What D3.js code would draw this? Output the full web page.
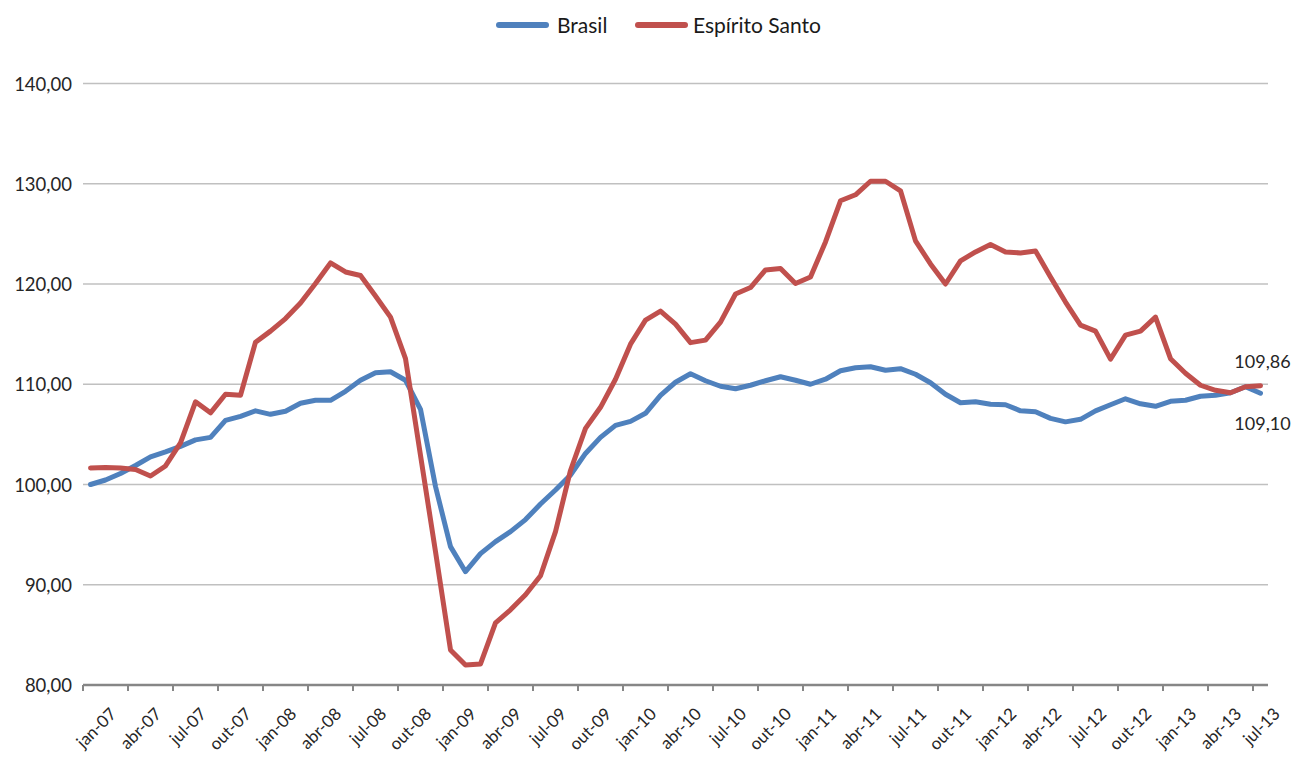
<!DOCTYPE html>
<html><head><meta charset="utf-8">
<script src="https://cdn.jsdelivr.net/npm/d3@7"></script>
<style>
html,body{margin:0;padding:0;background:#fff;}
svg{display:block;font-family:Lato,"Open Sans",sans-serif;}
</style></head>
<body><svg id="chart" width="1295" height="758"></svg>
<script>
const monthNames = ["jan","fev","mar","abr","mai","jun","jul","ago","set","out","nov","dez"];
const years = ["07","08","09","10","11","12","13"];
const categories = [];
years.forEach(y => monthNames.forEach(m => categories.push(m + "-" + y)));
categories.splice(categories.indexOf("jul-13") + 1);

const seriesNames = ["Brasil", "Espírito Santo"];
const brasil = [
  100.0,100.45,101.1,101.9,102.75,103.25,103.8,104.45,104.7,106.4,106.8,107.35,
  107.0,107.3,108.1,108.4,108.4,109.3,110.4,111.15,111.25,110.4,107.5,99.8,
  93.8,91.3,93.1,94.3,95.3,96.5,98.05,99.45,100.95,103.1,104.7,105.9,
  106.3,107.1,108.9,110.2,111.05,110.35,109.8,109.55,109.9,110.35,110.75,110.4,
  110.0,110.5,111.35,111.65,111.75,111.4,111.55,111.0,110.15,109.0,108.15,108.25,
  108.0,107.95,107.35,107.25,106.6,106.25,106.5,107.35,107.95,108.55,108.05,107.8,
  108.3,108.4,108.8,108.9,109.15,109.75,109.10
];
const espiritoSanto = [
  101.65,101.7,101.65,101.5,100.85,101.85,104.15,108.25,107.15,109.0,108.9,114.2,
  115.3,116.55,118.1,120.05,122.1,121.2,120.85,118.8,116.7,112.55,102.9,93.3,
  83.5,82.0,82.1,86.2,87.5,89.0,90.9,95.3,101.4,105.6,107.7,110.5,
  114.0,116.4,117.3,116.0,114.15,114.4,116.2,119.0,119.65,121.4,121.55,120.05,
  120.7,124.2,128.3,128.9,130.25,130.25,129.3,124.3,122.0,120.0,122.3,123.2,
  123.95,123.2,123.1,123.3,120.7,118.2,115.9,115.3,112.5,114.9,115.3,116.7,
  112.55,111.1,109.9,109.4,109.15,109.75,109.86
];
const yTicks = [80, 90, 100, 110, 120, 130, 140];
const colors = ["#4F81BD", "#C0504D"];

const fmt = v => d3.format(".2f")(v).replace(".", ",");

const svg = d3.select("#chart");
const pLeft = 83, pRight = 1268, pTop = 83.5, pBottom = 685;

const x = d3.scaleBand().domain(categories).range([pLeft, pRight]).paddingInner(0).paddingOuter(0);
const cx = c => x(c) + x.bandwidth() / 2;
const y = d3.scaleLinear().domain([80, 140]).range([pBottom, pTop]);

// gridlines
svg.append("g").selectAll("line").data(yTicks.filter(t => t > 80)).join("line")
  .attr("x1", pLeft).attr("x2", pRight)
  .attr("y1", d => y(d)).attr("y2", d => y(d))
  .attr("stroke", "#c0c0c0").attr("stroke-width", 1.5);

// y labels
svg.append("g").selectAll("text").data(yTicks).join("text")
  .attr("x", 72).attr("y", d => y(d) + 7)
  .attr("text-anchor", "end").attr("font-size", 18.5).attr("fill", "#262626")
  .text(d => fmt(d));

// x axis
const tickCats = categories.filter((c, i) => i % 3 === 0);
const xAxis = d3.axisBottom(x).tickValues(tickCats).tickSize(6).tickFormat("");
const gx = svg.append("g").attr("transform", `translate(0,${pBottom})`).call(xAxis);
gx.select(".domain").attr("stroke", "#868686").attr("stroke-width", 2.5)
  .attr("d", `M${pLeft},0H${pRight}`);
gx.selectAll(".tick").attr("transform", d => `translate(${x(d)},0)`);
gx.selectAll(".tick line").attr("stroke", "#868686").attr("stroke-width", 2);

// x labels
svg.append("g").selectAll("text").data(tickCats).join("text")
  .attr("text-anchor", "end").attr("font-size", 17).attr("fill", "#262626")
  .attr("transform", d => `translate(${Math.min(cx(d) + 27, 1281)},${pBottom + 30}) rotate(-45)`)
  .text(d => d);

// lines
const seriesData = [brasil, espiritoSanto];
const line = d3.line().x((d, i) => cx(categories[i])).y(d => y(d));
svg.append("g").selectAll("path").data(seriesData).join("path")
  .attr("d", line).attr("fill", "none")
  .attr("stroke", (d, i) => colors[i]).attr("stroke-width", 5)
  .attr("stroke-linejoin", "round").attr("stroke-linecap", "round");

// end data labels
const last = categories.length - 1;
svg.append("text").attr("x", cx(categories[last]) + 2).attr("y", y(espiritoSanto[last]) - 18)
  .attr("text-anchor", "middle").attr("font-size", 18).attr("fill", "#262626")
  .text(fmt(espiritoSanto[last]));
svg.append("text").attr("x", cx(categories[last]) + 2).attr("y", y(brasil[last]) + 37)
  .attr("text-anchor", "middle").attr("font-size", 18).attr("fill", "#262626")
  .text(fmt(brasil[last]));

// legend
const legend = svg.append("g");
const legendItems = [{name: seriesNames[0], x: 497, tx: 557}, {name: seriesNames[1], x: 636, tx: 693}];
legendItems.forEach((it, i) => {
  legend.append("line").attr("x1", it.x + 2).attr("x2", it.x + 49).attr("y1", 25).attr("y2", 25)
    .attr("stroke", colors[i]).attr("stroke-width", 6).attr("stroke-linecap", "round");
  legend.append("text").attr("x", it.tx).attr("y", 33).attr("font-size", 21).attr("fill", "#1a1a1a").text(it.name);
});
</script></body></html>
